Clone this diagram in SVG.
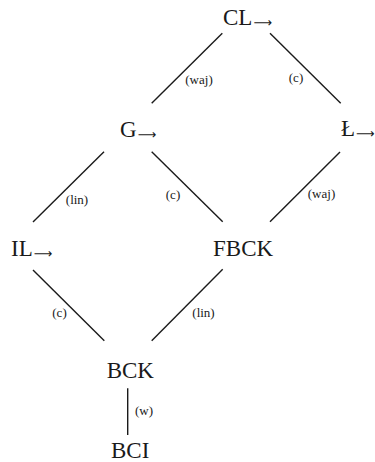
<svg xmlns="http://www.w3.org/2000/svg" width="375" height="462" viewBox="0 0 375 462">
<style>
.n{font-family:"Liberation Serif","Times New Roman",serif;font-size:23px;fill:#1a1a1a}
.a{font-family:"DejaVu Sans",sans-serif;font-size:13px}
.l{font-family:"Liberation Serif","Times New Roman",serif;font-size:13px;fill:#1a1a1a;text-anchor:middle}
.e line{stroke:#1a1a1a;stroke-width:1.4}
</style>
<rect width="375" height="462" fill="#fff"/>
<g class="e" id="connectors">
<line x1="151.7" y1="103.3" x2="222.3" y2="33.3"/>
<line x1="270" y1="33.3" x2="340.7" y2="103.3"/>
<line x1="104" y1="151.7" x2="33" y2="222"/>
<line x1="151.7" y1="151.7" x2="222.7" y2="221.7"/>
<line x1="340" y1="152" x2="270" y2="221.7"/>
<line x1="33" y1="270" x2="104.3" y2="340.7"/>
<line x1="222.7" y1="269.3" x2="151.7" y2="340.7"/>
<line x1="127.7" y1="388.3" x2="127.7" y2="435"/>
<text class="l" x="199" y="84">(waj)</text>
<text class="l" x="296" y="82">(c)</text>
<text class="l" x="77" y="204">(lin)</text>
<text class="l" x="173" y="199">(c)</text>
<text class="l" x="321.5" y="198">(waj)</text>
<text class="l" x="59.5" y="317">(c)</text>
<text class="l" x="203.5" y="317">(lin)</text>
<text class="l" x="144" y="415">(w)</text>
</g>
<g id="CL"><text class="n" x="223" y="25">CL<tspan class="a" dx="1" dy="1.5">⟶</tspan></text></g>
<g id="G"><text class="n" x="120" y="137">G<tspan class="a" dx="1" dy="1.5">⟶</tspan></text></g>
<g id="L"><text class="n" x="341" y="136">Ł<tspan class="a" dx="1" dy="1.5">⟶</tspan></text></g>
<g id="IL"><text class="n" x="11" y="256">IL<tspan class="a" dx="1" dy="1.5">⟶</tspan></text></g>
<g id="FBCK"><text class="n" x="213" y="256">FBCK</text></g>
<g id="BCK"><text class="n" x="106.7" y="378">BCK</text></g>
<g id="BCI"><text class="n" x="111" y="457.5">BCI</text></g>
</svg>
